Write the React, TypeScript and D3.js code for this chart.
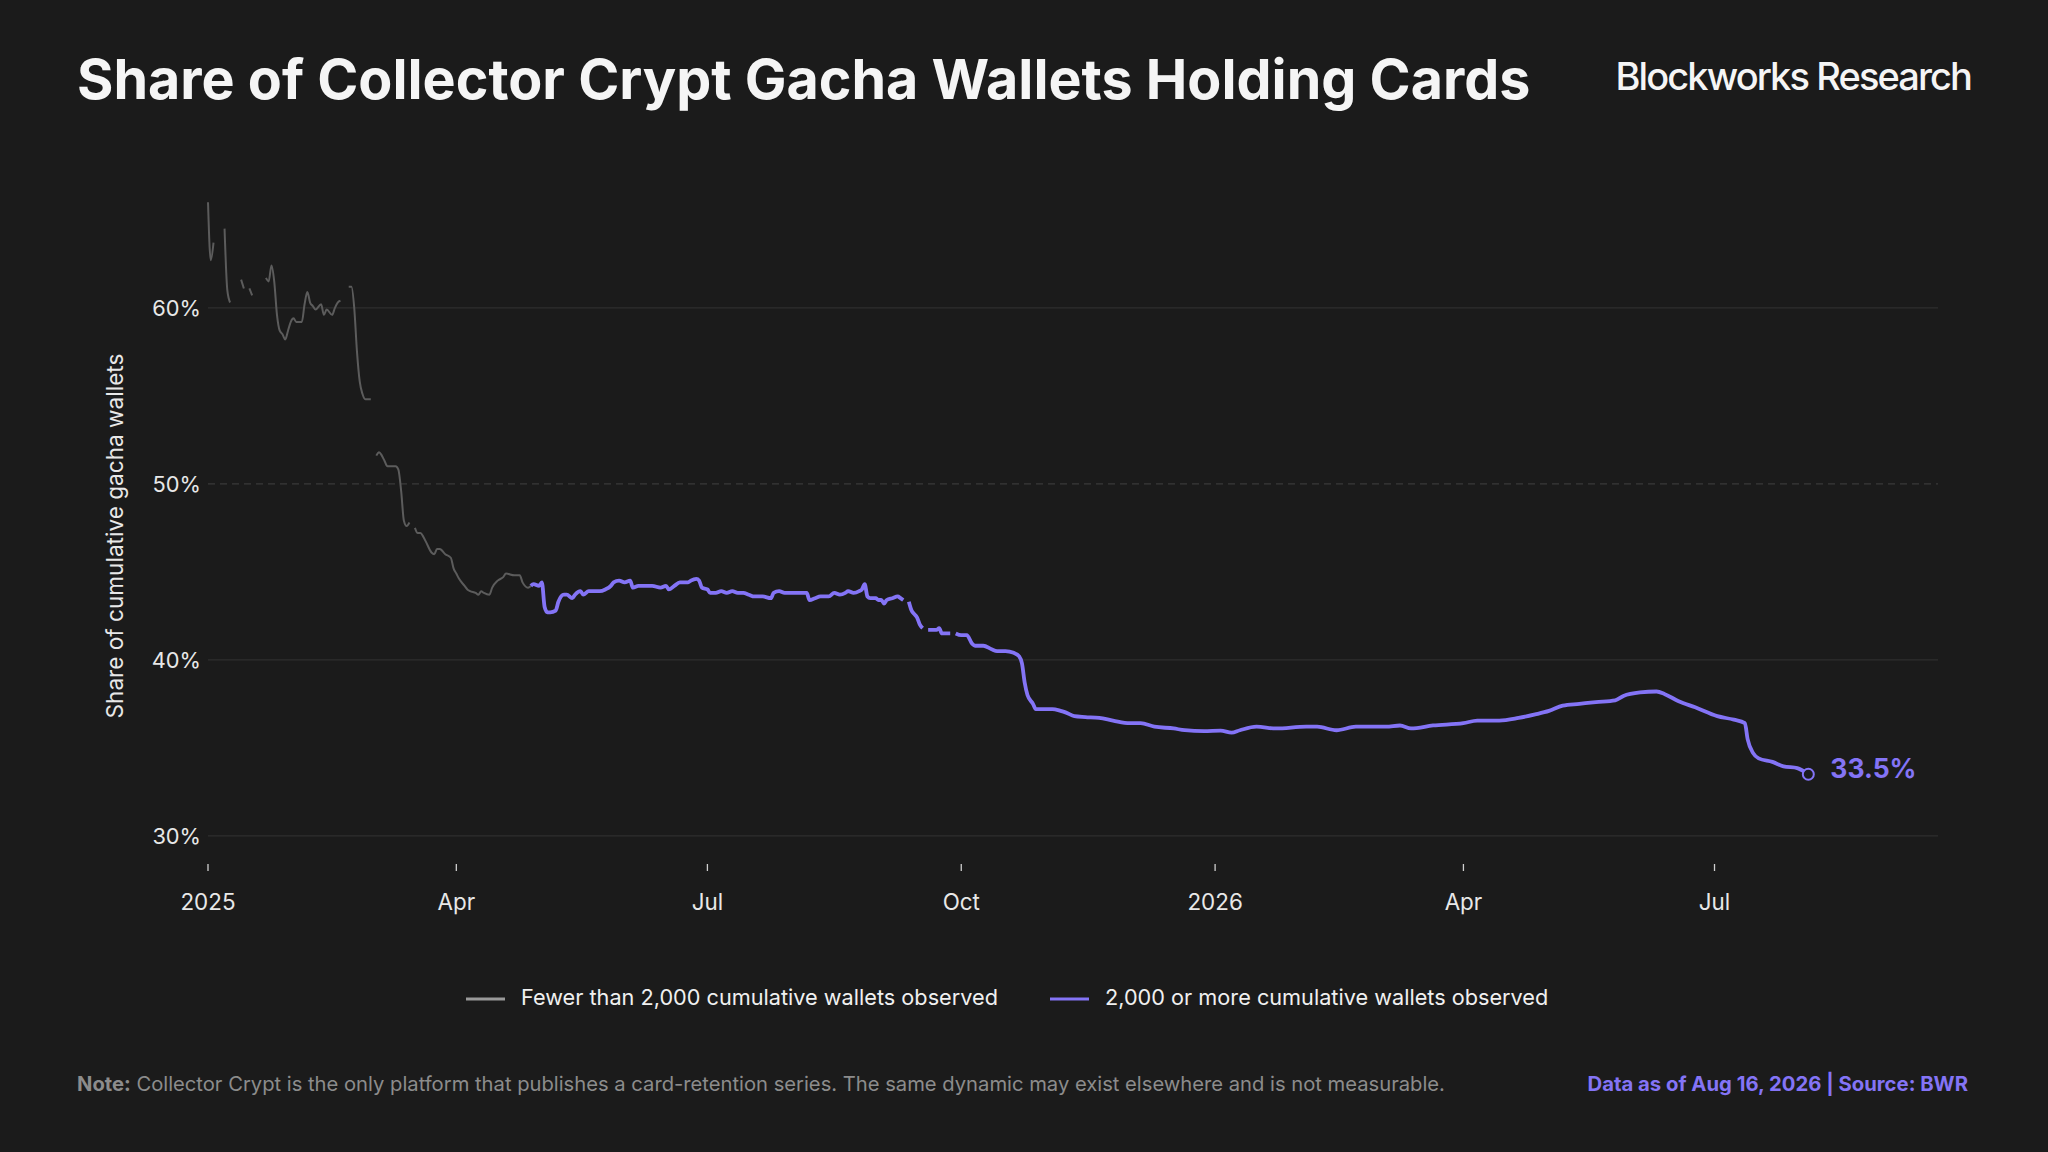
import React from 'react'
import * as d3 from 'd3'

const WIDTH = 2048
const HEIGHT = 1152

// Share of wallets holding cards, while fewer than 2,000 cumulative wallets were observed
const smallDates = [
  '2025-01-01', '2025-01-02', '2025-01-03', '2025-01-04', '2025-01-07', '2025-01-08', '2025-01-09', '2025-01-10',
  '2025-01-13', '2025-01-14', '2025-01-15', '2025-01-16', '2025-01-17', '2025-01-18',
  '2025-01-22', '2025-01-23', '2025-01-24', '2025-01-25', '2025-01-26', '2025-01-27', '2025-01-28', '2025-01-29',
  '2025-01-30', '2025-01-31', '2025-02-01', '2025-02-02', '2025-02-04', '2025-02-05', '2025-02-06', '2025-02-07',
  '2025-02-08', '2025-02-09', '2025-02-11', '2025-02-12', '2025-02-13', '2025-02-15', '2025-02-16', '2025-02-17',
  '2025-02-18', '2025-02-19', '2025-02-21', '2025-02-22', '2025-02-23', '2025-02-24', '2025-02-25', '2025-02-26',
  '2025-02-27', '2025-02-28', '2025-03-01', '2025-03-02', '2025-03-03', '2025-03-04', '2025-03-05', '2025-03-06',
  '2025-03-07', '2025-03-08', '2025-03-10', '2025-03-11', '2025-03-12', '2025-03-13', '2025-03-14', '2025-03-15',
  '2025-03-16', '2025-03-17', '2025-03-18', '2025-03-19', '2025-03-20', '2025-03-21', '2025-03-23', '2025-03-24',
  '2025-03-25', '2025-03-26', '2025-03-28', '2025-03-30', '2025-03-31', '2025-04-01', '2025-04-02', '2025-04-04',
  '2025-04-05', '2025-04-06', '2025-04-08', '2025-04-09', '2025-04-10', '2025-04-11', '2025-04-13', '2025-04-14',
  '2025-04-16', '2025-04-18', '2025-04-19', '2025-04-22', '2025-04-24', '2025-04-25', '2025-04-27', '2025-04-28',
]
const smallValues: (number | null)[] = [
  66.0, 62.7, 63.7, null, 64.5, 61.0, 60.3, null,
  61.6, 61.1, null, 61.1, 60.7, null,
  61.7, 61.5, 62.4, 61.5, 59.6, 58.7, 58.5, 58.2,
  58.7, 59.2, 59.4, 59.2, 59.2, 60.2, 60.9, 60.3,
  60.1, 59.9, 60.2, 59.6, 59.9, 59.6, 60.0, 60.3,
  60.4, null, 61.2, 61.2, 60.0, 57.5, 55.8, 55.1,
  54.8, 54.8, 54.8, null, 51.6, 51.8, 51.6, 51.3,
  51.0, 51.0, 51.0, 50.8, 49.6, 47.9, 47.6, 47.8,
  null, 47.5, 47.2, 47.2, 47.0, 46.7, 46.1, 46.0,
  46.3, 46.3, 46.0, 45.8, 45.2, 44.9, 44.6, 44.2,
  44.0, 43.9, 43.8, 43.7, 43.9, 43.8, 43.7, 44.1,
  44.5, 44.7, 44.9, 44.8, 44.8, 44.4, 44.1, 44.2,
]

// Share once 2,000 or more cumulative wallets were observed
const largeDates = [
  '2025-04-28', '2025-04-29', '2025-05-01', '2025-05-02', '2025-05-03', '2025-05-04', '2025-05-05', '2025-05-07',
  '2025-05-08', '2025-05-10', '2025-05-11', '2025-05-13', '2025-05-14', '2025-05-16', '2025-05-17', '2025-05-19',
  '2025-05-20', '2025-05-23', '2025-05-25', '2025-05-27', '2025-05-28', '2025-05-30', '2025-06-01', '2025-06-03',
  '2025-06-04', '2025-06-06', '2025-06-09', '2025-06-11', '2025-06-14', '2025-06-16', '2025-06-17', '2025-06-19',
  '2025-06-21', '2025-06-24', '2025-06-25', '2025-06-27', '2025-06-28', '2025-06-29', '2025-07-01', '2025-07-02',
  '2025-07-04', '2025-07-06', '2025-07-08', '2025-07-10', '2025-07-12', '2025-07-14', '2025-07-16', '2025-07-18',
  '2025-07-21', '2025-07-24', '2025-07-25', '2025-07-27', '2025-07-29', '2025-07-31', '2025-08-03', '2025-08-06',
  '2025-08-07', '2025-08-09', '2025-08-11', '2025-08-14', '2025-08-16', '2025-08-18', '2025-08-20', '2025-08-21',
  '2025-08-23', '2025-08-25', '2025-08-26', '2025-08-27', '2025-08-28', '2025-08-29', '2025-08-31', '2025-09-01',
  '2025-09-02', '2025-09-03', '2025-09-04', '2025-09-06', '2025-09-08', '2025-09-09', '2025-09-10', '2025-09-11',
  '2025-09-12', '2025-09-13', '2025-09-14', '2025-09-15', '2025-09-16', '2025-09-17', '2025-09-18', '2025-09-19',
  '2025-09-22', '2025-09-23', '2025-09-24', '2025-09-27', '2025-09-28', '2025-09-29', '2025-10-01', '2025-10-03',
  '2025-10-05', '2025-10-06', '2025-10-09', '2025-10-12', '2025-10-14', '2025-10-17', '2025-10-20', '2025-10-22',
  '2025-10-23', '2025-10-24', '2025-10-25', '2025-10-27', '2025-10-28', '2025-11-03', '2025-11-06', '2025-11-08',
  '2025-11-11', '2025-11-15', '2025-11-20', '2025-11-25', '2025-12-01', '2025-12-05', '2025-12-10', '2025-12-17',
  '2025-12-21', '2025-12-28', '2026-01-03', '2026-01-07', '2026-01-10', '2026-01-16', '2026-01-23', '2026-02-03',
  '2026-02-07', '2026-02-14', '2026-02-21', '2026-03-04', '2026-03-09', '2026-03-13', '2026-03-21', '2026-04-01',
  '2026-04-06', '2026-04-14', '2026-04-21', '2026-04-27', '2026-05-02', '2026-05-07', '2026-05-13', '2026-05-19',
  '2026-05-26', '2026-05-29', '2026-06-04', '2026-06-10', '2026-06-13', '2026-06-18', '2026-06-24', '2026-07-02',
  '2026-07-08', '2026-07-12', '2026-07-13', '2026-07-15', '2026-07-17', '2026-07-22', '2026-07-26', '2026-07-31',
  '2026-08-02', '2026-08-04',
]
const largeValues: (number | null)[] = [
  44.2, 44.3, 44.2, 44.4, 43.0, 42.7, 42.7, 42.8,
  43.3, 43.7, 43.7, 43.5, 43.7, 43.9, 43.7, 43.9,
  43.9, 43.9, 44.0, 44.2, 44.4, 44.5, 44.4, 44.5,
  44.1, 44.2, 44.2, 44.2, 44.1, 44.2, 44.0, 44.2,
  44.4, 44.4, 44.5, 44.6, 44.5, 44.1, 44.0, 43.8,
  43.8, 43.9, 43.8, 43.9, 43.8, 43.8, 43.7, 43.6,
  43.6, 43.5, 43.8, 43.9, 43.8, 43.8, 43.8, 43.8,
  43.4, 43.5, 43.6, 43.6, 43.8, 43.7, 43.8, 43.9,
  43.8, 43.9, 44.0, 44.3, 43.6, 43.5, 43.5, 43.4,
  43.4, 43.2, 43.4, 43.5, 43.6, 43.5, 43.4, null,
  43.3, 42.8, 42.6, 42.4, 42.0, 41.8, null, 41.7,
  41.7, 41.8, 41.5, 41.5, null, 41.5, 41.4, 41.4,
  40.9, 40.8, 40.8, 40.6, 40.5, 40.5, 40.4, 40.2,
  39.8, 38.7, 38.0, 37.5, 37.2, 37.2, 37.1, 37.0,
  36.8, 36.75, 36.7, 36.55, 36.4, 36.4, 36.2, 36.1,
  36.0, 35.95, 35.98, 35.86, 36.0, 36.2, 36.1, 36.2,
  36.2, 36.0, 36.2, 36.2, 36.27, 36.1, 36.27, 36.4,
  36.55, 36.55, 36.7, 36.9, 37.1, 37.4, 37.5, 37.6,
  37.7, 37.95, 38.15, 38.2, 38.05, 37.65, 37.3, 36.8,
  36.6, 36.4, 35.5, 34.7, 34.4, 34.2, 33.95, 33.85,
  33.7, 33.5,
]

const yTicks = [30, 40, 50, 60]
const xTickDates = ['2025-01-01', '2025-04-01', '2025-07-01', '2025-10-01', '2026-01-01', '2026-04-01', '2026-07-01']
const xDomain = ['2025-01-01', '2026-09-20']
const yDomain = [28.4, 67]

const legendLabels = ['Fewer than 2,000 cumulative wallets observed', '2,000 or more cumulative wallets observed']

const BG = '#1b1b1b'
const PURPLE = '#8474f6'
const GRAY = '#5c5c5c'
const FONT = 'Inter, "Noto Sans", sans-serif'

type Point = [Date, number | null]

const parse = d3.utcParse('%Y-%m-%d')

const App: React.FC = () => {
  const x = d3
    .scaleUtc()
    .domain(xDomain.map(d => parse(d)!))
    .range([208, 1938])
  const y = d3.scaleLinear().domain(yDomain).range([864, 184.6])

  const small: Point[] = smallDates.map((d, i) => [parse(d)!, smallValues[i]])
  const large: Point[] = largeDates.map((d, i) => [parse(d)!, largeValues[i]])

  const line = d3
    .line<Point>()
    .defined(d => d[1] != null)
    .x(d => x(d[0]))
    .y(d => y(d[1] as number))
    .curve(d3.curveMonotoneX)

  const fmt = (d: Date) => (d.getUTCMonth() === 0 ? d3.utcFormat('%Y')(d) : d3.utcFormat('%b')(d))

  const last = large[large.length - 1]
  const lastX = x(last[0])
  const lastY = y(last[1] as number)

  return (
    <div style={{ position: 'fixed', left: 0, top: 0, width: WIDTH, height: HEIGHT, background: BG }}>
      <svg width={WIDTH} height={HEIGHT} style={{ display: 'block', fontFamily: FONT }}>
        <rect width={WIDTH} height={HEIGHT} fill={BG} />

        {/* Header */}
        <text x={77} y={99} fill="#f5f5f5" fontSize={55.6} fontWeight={700}>
          Share of Collector Crypt Gacha Wallets Holding Cards
        </text>
        <text x={1971} y={90} fill="#f5f5f5" fontSize={38} fontWeight={500} textAnchor="end" letterSpacing={-1.9}>
          Blockworks Research
        </text>

        {/* Grid + y axis */}
        {yTicks.map(t => (
          <g key={t}>
            <line
              x1={208}
              x2={1938}
              y1={y(t)}
              y2={y(t)}
              stroke={t === 50 ? '#3a3a3a' : '#2f2f2f'}
              strokeWidth={1.3}
              strokeDasharray={t === 50 ? '7 5' : undefined}
            />
            <text x={201} y={y(t) + 2.5} fill="#e8e8e8" fontSize={21.8} textAnchor="end" dominantBaseline="middle">
              {`${t}%`}
            </text>
          </g>
        ))}
        <text
          transform="translate(117,536) rotate(-90)"
          fill="#e8e8e8"
          fontSize={22.6}
          textAnchor="middle"
          dominantBaseline="middle"
        >
          Share of cumulative gacha wallets
        </text>

        {/* x axis */}
        {xTickDates.map(s => {
          const d = parse(s)!
          return (
            <g key={s} transform={`translate(${x(d)},0)`}>
              <line y1={864} y2={871} stroke="#cfcfcf" strokeWidth={1.3} />
              <text y={904} fill="#e8e8e8" fontSize={22.4} textAnchor="middle" dominantBaseline="middle">
                {fmt(d)}
              </text>
            </g>
          )
        })}

        {/* Series */}
        <path d={line(small) ?? ''} fill="none" stroke={GRAY} strokeWidth={2} strokeLinejoin="round" />
        <path d={line(large) ?? ''} fill="none" stroke={PURPLE} strokeWidth={3.8} strokeLinejoin="round" />
        <circle cx={lastX} cy={lastY} r={5.5} fill={BG} stroke={PURPLE} strokeWidth={2} />
        <text x={lastX + 22} y={lastY - 3} fill={PURPLE} fontSize={26.5} fontWeight={700} dominantBaseline="middle">
          {`${(last[1] as number).toFixed(1)}%`}
        </text>

        {/* Legend */}
        <line x1={466} x2={505} y1={999} y2={999} stroke="#9a9a9a" strokeWidth={3} />
        <text x={521} y={999} fill="#f0f0f0" fontSize={21.7} dominantBaseline="middle">
          {legendLabels[0]}
        </text>
        <line x1={1050} x2={1089} y1={999} y2={999} stroke={PURPLE} strokeWidth={3} />
        <text x={1105} y={999} fill="#f0f0f0" fontSize={21.7} dominantBaseline="middle">
          {legendLabels[1]}
        </text>

        {/* Footer */}
        <text x={77} y={1085} fill="#8c8c8c" fontSize={20.2} dominantBaseline="middle">
          <tspan fontWeight={700}>Note:</tspan>
          <tspan>
            {' '}
            Collector Crypt is the only platform that publishes a card-retention series. The same dynamic may exist
            elsewhere and is not measurable.
          </tspan>
        </text>
        <text x={1968} y={1085} fill={PURPLE} fontSize={20.3} fontWeight={700} textAnchor="end" dominantBaseline="middle">
          Data as of Aug 16, 2026 | Source: BWR
        </text>
      </svg>
    </div>
  )
}

export default App
